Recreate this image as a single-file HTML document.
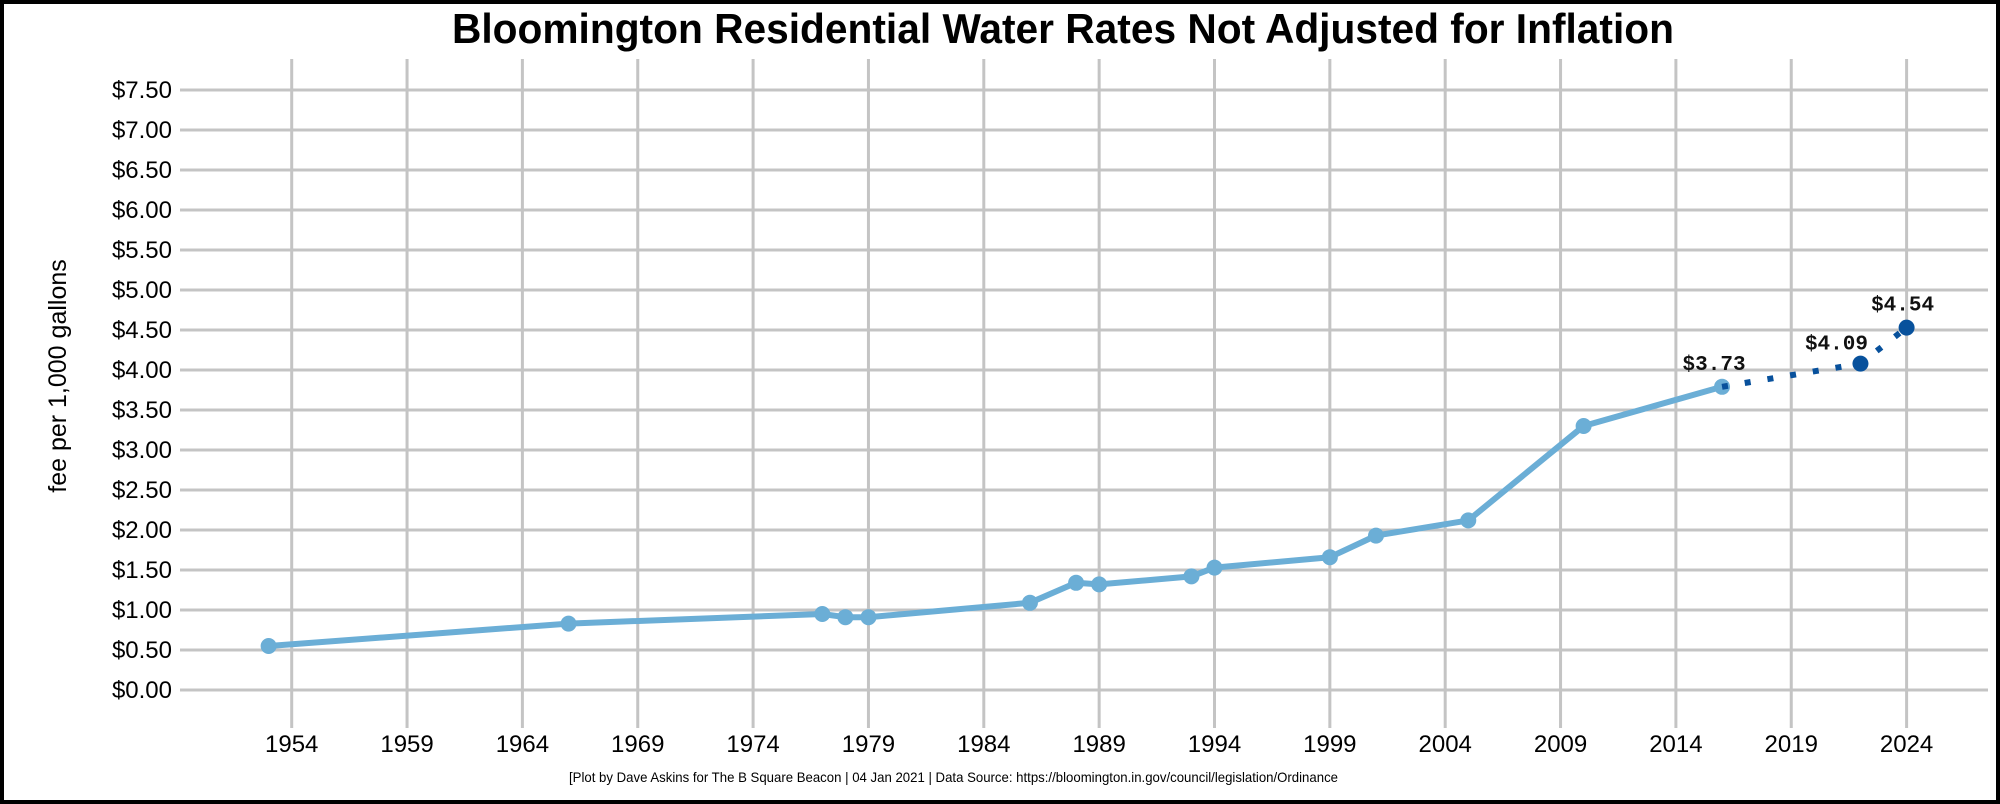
<!DOCTYPE html>
<html><head><meta charset="utf-8">
<style>
html,body{margin:0;padding:0;background:#fff;}
svg{display:block;}
.sans{font-family:"Liberation Sans",Arial,sans-serif;}
.mono{font-family:"Liberation Mono","Courier New",monospace;}
</style></head>
<body>
<svg id="chart" width="2000" height="804" viewBox="0 0 2000 804" xmlns="http://www.w3.org/2000/svg">
<rect x="2" y="2" width="1996" height="800" fill="#fff" stroke="#000" stroke-width="4"/>
<text class="sans" x="452" y="43" font-size="42" font-weight="bold" textLength="1222" lengthAdjust="spacingAndGlyphs">Bloomington Residential Water Rates Not Adjusted for Inflation</text>
<text class="sans" transform="translate(66,376) rotate(-90)" text-anchor="middle" font-size="25">fee per 1,000 gallons</text>
<text class="sans" x="569" y="782" font-size="14" textLength="769" lengthAdjust="spacingAndGlyphs">[Plot by Dave Askins for The B Square Beacon | 04 Jan 2021 | Data Source: https://bloomington.in.gov/council/legislation/Ordinance</text>
<g id="grid"></g><g id="ylabels"></g><g id="xlabels"></g><g id="series"></g><g id="proj"></g><g id="labels"></g>
</svg>
<script>
const years=[1953,1966,1977,1978,1979,1986,1988,1989,1993,1994,1999,2001,2005,2010,2016];
const rates=[0.55,0.83,0.95,0.91,0.91,1.09,1.34,1.32,1.42,1.53,1.66,1.93,2.12,3.30,3.79];
const projYears=[2016,2022,2024];
const projRates=[3.79,4.08,4.53];
const annotYears=[2016,2022,2024];
const annotRates=[3.79,4.08,4.53];
const annotText=["$3.73","$4.09","$4.54"];
const yTicks=[0,0.5,1,1.5,2,2.5,3,3.5,4,4.5,5,5.5,6,6.5,7,7.5];
const xTicks=[1954,1959,1964,1969,1974,1979,1984,1989,1994,1999,2004,2009,2014,2019,2024];

const NS="http://www.w3.org/2000/svg";
const X=y=>291.7+(y-1954)*23.07;
const Y=v=>690-v*80;
function mk(tag,attrs,parent,txt){const e=document.createElementNS(NS,tag);for(const k in attrs)e.setAttribute(k,attrs[k]);if(txt!=null)e.textContent=txt;document.getElementById(parent).appendChild(e);return e;}

yTicks.forEach(v=>{
  const l=mk('line',{x1:180,x2:1988,y1:Y(v),y2:Y(v),stroke:'#c4c4c4','stroke-width':3},'grid');
  
  
  const t=mk('text',{class:'sans',x:172,y:Y(v)+8,'text-anchor':'end','font-size':24},'ylabels','$'+v.toFixed(2));
  
  
});
xTicks.forEach(y=>{
  const l=mk('line',{x1:X(y),x2:X(y),y1:59,y2:728,stroke:'#c4c4c4','stroke-width':3},'grid');
  
  
  const t=mk('text',{class:'sans',x:X(y),y:752,'text-anchor':'middle','font-size':24},'xlabels',String(y));
  
  
});
const pts=years.map((y,i)=>X(y)+','+Y(rates[i])).join(' ');
const pl=mk('polyline',{points:pts,fill:'none',stroke:'#6baed6','stroke-width':6,'stroke-linejoin':'round'},'series');


years.forEach((y,i)=>{
  const c=mk('circle',{cx:X(y),cy:Y(rates[i]),r:8,fill:'#6baed6'},'series');
  
  
});
const ppts=projYears.map((y,i)=>X(y)+','+Y(projRates[i])).join(' ');
const pp=mk('polyline',{points:ppts,fill:'none',stroke:'#08519c','stroke-width':6,'stroke-dasharray':'6 17'},'proj');


projYears.slice(1).forEach((y,i)=>{
  const c=mk('circle',{cx:X(y),cy:Y(projRates[i+1]),r:8,fill:'#08519c'},'proj');
  
  
});
const dx=[-8,-24,-4],dy=[-17,-14,-17];
annotYears.forEach((y,i)=>{
  const t=mk('text',{class:'mono',x:X(y)+dx[i],y:Y(annotRates[i])+dy[i],'text-anchor':'middle','font-size':21,'font-weight':'bold','fill':'#111'},'labels',annotText[i]);
  
  
});
</script>
</body></html>
